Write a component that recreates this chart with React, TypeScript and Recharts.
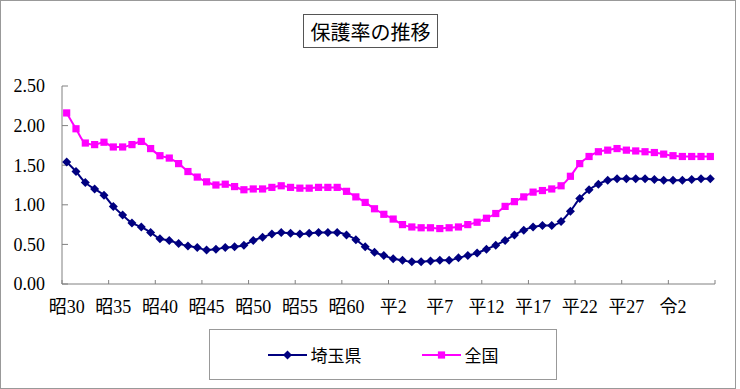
import { LineChart, Line, XAxis, YAxis } from "recharts";

const years = [
  "昭30", "昭31", "昭32", "昭33", "昭34", "昭35", "昭36", "昭37", "昭38", "昭39",
  "昭40", "昭41", "昭42", "昭43", "昭44", "昭45", "昭46", "昭47", "昭48", "昭49",
  "昭50", "昭51", "昭52", "昭53", "昭54", "昭55", "昭56", "昭57", "昭58", "昭59",
  "昭60", "昭61", "昭62", "昭63", "平元", "平2", "平3", "平4", "平5", "平6",
  "平7", "平8", "平9", "平10", "平11", "平12", "平13", "平14", "平15", "平16",
  "平17", "平18", "平19", "平20", "平21", "平22", "平23", "平24", "平25", "平26",
  "平27", "平28", "平29", "平30", "令元", "令2", "令3", "令4", "令5", "令6",
];

const saitama = [
  1.54, 1.42, 1.28, 1.2, 1.12, 0.98, 0.87, 0.77, 0.72, 0.65,
  0.57, 0.55, 0.51, 0.48, 0.46, 0.43, 0.44, 0.46, 0.47, 0.49,
  0.55, 0.59, 0.63, 0.65, 0.64, 0.63, 0.64, 0.65, 0.65, 0.65,
  0.62, 0.56, 0.47, 0.4, 0.36, 0.32, 0.3, 0.28, 0.28, 0.29,
  0.3, 0.3, 0.33, 0.36, 0.39, 0.44, 0.49, 0.55, 0.62, 0.68,
  0.72, 0.74, 0.74, 0.79, 0.92, 1.08, 1.19, 1.26, 1.31, 1.33,
  1.33, 1.33, 1.33, 1.32, 1.31, 1.31, 1.31, 1.32, 1.33, 1.33,
];

const zenkoku = [
  2.16, 1.96, 1.78, 1.76, 1.79, 1.73, 1.73, 1.76, 1.8, 1.71,
  1.62, 1.59, 1.52, 1.42, 1.35, 1.29, 1.25, 1.26, 1.23, 1.19,
  1.2, 1.2, 1.22, 1.24, 1.22, 1.21, 1.21, 1.22, 1.22, 1.22,
  1.17, 1.1, 1.03, 0.95, 0.88, 0.82, 0.75, 0.72, 0.71, 0.71,
  0.7, 0.71, 0.72, 0.75, 0.78, 0.83, 0.89, 0.98, 1.04, 1.1,
  1.16, 1.18, 1.2, 1.24, 1.36, 1.52, 1.61, 1.67, 1.69, 1.71,
  1.69, 1.68, 1.67, 1.66, 1.64, 1.62, 1.61, 1.61, 1.61, 1.61,
];

const yTicks = [0, 0.5, 1, 1.5, 2, 2.5];

const data = years.map((year, i) => ({
  year,
  saitama: saitama[i],
  zenkoku: zenkoku[i],
}));

const W = 740;
const H = 389;
const margin = { top: 86, right: 25, bottom: 75, left: 0 };
const yAxisWidth = 62;
const plotW = W - margin.left - margin.right - yAxisWidth;
const step = plotW / years.length;
const half = step / 2;

const FONT = '"Liberation Serif", "Noto Sans CJK JP", serif';
const JP = '"Noto Sans CJK JP", sans-serif';
const AXIS = "#808080";

const Diamond = (props: any) => {
  const { cx, cy, fill } = props;
  if (cx == null || cy == null) return null;
  const r = 4.5;
  return (
    <polygon
      points={`${cx},${cy - r} ${cx + r},${cy} ${cx},${cy + r} ${cx - r},${cy}`}
      fill={fill}
    />
  );
};

const Square = (props: any) => {
  const { cx, cy, fill } = props;
  if (cx == null || cy == null) return null;
  const r = 3.6;
  return <rect x={cx - r} y={cy - r} width={r * 2} height={r * 2} fill={fill} />;
};

const XTick = (props: any) => {
  const { x, y, payload } = props;
  const idx = years.indexOf(payload.value);
  const last = idx + 5 >= years.length;
  return (
    <g>
      <line x1={x - half} y1={y} x2={x - half} y2={y - 4} stroke={AXIS} />
      {last && (
        <line
          x1={x - half + step * 5}
          y1={y}
          x2={x - half + step * 5}
          y2={y - 4}
          stroke={AXIS}
        />
      )}
      <text x={x} y={y + 29} textAnchor="middle" fontSize={18} fontFamily={FONT} fill="#000">
        {payload.value}
      </text>
    </g>
  );
};

const series = [
  { key: "saitama", name: "埼玉県", color: "#000080", Marker: Diamond },
  { key: "zenkoku", name: "全国", color: "#FF00FF", Marker: Square },
];

export default function App() {
  return (
    <div style={{ position: "absolute", left: 0, top: 0, width: W, height: H, background: "#fff" }}>
      <div
        style={{
          position: "absolute",
          left: 0,
          top: 0,
          width: 736,
          height: H,
          border: "1px solid #999",
          boxSizing: "border-box",
        }}
      />
      <div style={{ position: "absolute", left: 0, top: 0 }}>
        <LineChart width={W} height={H} data={data} margin={margin}>
          <XAxis
            dataKey="year"
            interval={4}
            padding={{ left: half, right: half }}
            tick={<XTick />}
            tickLine={false}
            tickSize={0}
            tickMargin={0}
            height={30}
            stroke={AXIS}
          />
          <YAxis
            width={yAxisWidth}
            domain={[0, 2.5]}
            ticks={yTicks}
            interval={0}
            tickFormatter={(v: number) => v.toFixed(2)}
            tickSize={-6}
            tickMargin={23}
            stroke={AXIS}
            tick={{ fill: "#000", fontSize: 18, fontFamily: FONT }}
          />
          {series.map((s) => (
            <Line
              key={s.key}
              dataKey={s.key}
              name={s.name}
              type="monotone"
              stroke={s.color}
              strokeWidth={2}
              isAnimationActive={false}
              dot={(p: any) => <s.Marker key={`${s.key}-${p.index}`} {...p} fill={s.color} />}
              activeDot={false}
            />
          ))}
        </LineChart>
      </div>
      <div
        style={{
          position: "absolute",
          left: 303,
          top: 14,
          width: 135,
          height: 34,
          border: "1px solid #555",
          boxSizing: "border-box",
          display: "flex",
          alignItems: "center",
          justifyContent: "center",
          fontFamily: JP,
          fontSize: 20,
          color: "#000",
        }}
      >
        保護率の推移
      </div>
      <div
        style={{
          position: "absolute",
          left: 209,
          top: 329,
          width: 348,
          height: 51,
          border: "1px solid #999",
          boxSizing: "border-box",
          display: "flex",
          alignItems: "center",
          justifyContent: "center",
          gap: 60,
          fontFamily: JP,
          fontSize: 17,
          color: "#000",
        }}
      >
        {series.map((s) => (
          <div key={s.key} style={{ display: "flex", alignItems: "center", gap: 4 }}>
            <svg width={39} height={12}>
              <line x1={0} y1={6} x2={39} y2={6} stroke={s.color} strokeWidth={2} />
              <s.Marker cx={19.5} cy={6} fill={s.color} />
            </svg>
            <span>{s.name}</span>
          </div>
        ))}
      </div>
    </div>
  );
}
